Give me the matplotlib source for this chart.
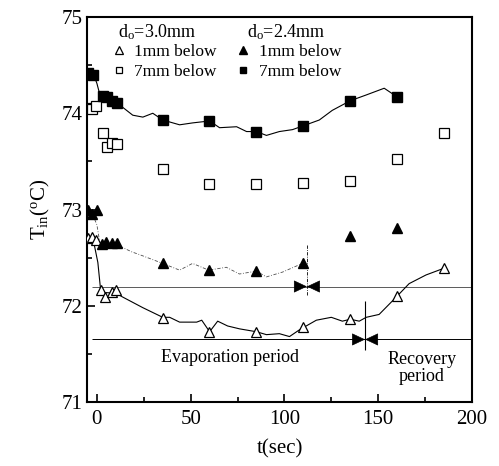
import numpy as np
import matplotlib
matplotlib.use('Agg')
import matplotlib.pyplot as plt
from matplotlib.lines import Line2D

plt.rcParams['font.family'] = 'Liberation Serif'
plt.rcParams['mathtext.fontset'] = 'custom'
plt.rcParams['mathtext.rm'] = 'Liberation Serif'
plt.rcParams['mathtext.it'] = 'Liberation Serif:italic'

# d_o = 3.0 mm, 1 mm below (open triangles)
t_ot = [-5, -2.5, -0.5, 2, 4.5, 8, 10, 35, 60, 85, 110, 135, 160, 185]
T_ot = [72.70, 72.71, 72.68, 72.16, 72.09, 72.14, 72.16, 71.87, 71.73, 71.73, 71.78, 71.86, 72.10, 72.39]
# d_o = 3.0 mm, 7 mm below (open squares)
t_os = [-5, -2.5, -0.5, 3, 5.5, 8, 10.5, 35, 60, 85, 110, 135, 160, 185]
T_os = [74.05, 74.04, 74.08, 73.80, 73.65, 73.69, 73.68, 73.42, 73.27, 73.27, 73.28, 73.30, 73.52, 73.80]
# d_o = 2.4 mm, 1 mm below (filled triangles)
t_ft = [-5, -2.5, 0, 2.5, 5, 8, 10.5, 35, 60, 85, 110, 135, 160]
T_ft = [73.00, 72.95, 73.00, 72.64, 72.66, 72.65, 72.65, 72.44, 72.37, 72.36, 72.44, 72.73, 72.81]
# d_o = 2.4 mm, 7 mm below (filled squares)
t_fs = [-5, -2, 3, 5.5, 8, 10.5, 35, 60, 85, 110, 135, 160]
T_fs = [74.42, 74.40, 74.18, 74.17, 74.13, 74.11, 73.93, 73.92, 73.81, 73.87, 74.13, 74.17]

# traced curves
curve_fs_t = [-5.3, -2.1, 0, 1.6, 10.6, 19.1, 24.5, 29.8, 35.1, 44.1, 51.1, 60.1, 65.4, 74.5, 79.8,
              85.1, 90.4, 97.3, 104.3, 110.1, 118.6, 125.5, 135.1, 143.6, 153.2, 160.1]
curve_fs_T = [74.43, 74.42, 74.31, 74.19, 74.11, 73.98, 73.96, 74.00, 73.93, 73.88, 73.90, 73.92, 73.85, 73.86, 73.81,
              73.81, 73.77, 73.81, 73.83, 73.87, 73.93, 74.03, 74.13, 74.19, 74.26, 74.17]
curve_ot_t = [-2.1, 0.5, 2.1, 10.1, 13.8, 24.5, 35.1, 38.8, 44.1, 53.2, 55.9, 60.1, 64.4, 69.7, 76.1, 85.1,
              90.4, 97.3, 102.7, 108, 117, 125, 130.9, 135.1, 139.9, 143.6, 150.5, 160.1, 166.5, 175.5, 185.1]
curve_ot_T = [72.70, 72.45, 72.14, 72.13, 72.09, 71.98, 71.88, 71.88, 71.83, 71.83, 71.85, 71.73, 71.84, 71.79, 71.76, 71.73,
              71.70, 71.71, 71.68, 71.75, 71.85, 71.88, 71.84, 71.86, 71.84, 71.88, 71.91, 72.10, 72.23, 72.32, 72.39]
curve_ft_t = [-2.7, 0, 1.6, 11, 18.6, 22.9, 35.1, 44.1, 51, 59.6, 69, 76, 85, 90.4, 99, 109.6]
curve_ft_T = [72.97, 72.84, 72.65, 72.63, 72.56, 72.53, 72.44, 72.37, 72.44, 72.37, 72.40, 72.33, 72.36, 72.30, 72.35, 72.44]

# reference levels and period boundaries
ref_levels = [72.2, 71.65]
period_end = [112, 143]
period_span = [(72.11, 72.63), (71.54, 72.05)]

fig = plt.figure(figsize=(4.99, 4.66), dpi=100)
ax = fig.add_axes([0.1743, 0.1373, 0.7715, 0.8262])

# horizontal reference lines
ax.hlines(ref_levels[0], -2.5, 200, colors='0.25', lw=0.6)
ax.hlines(ref_levels[1], -2.7, 200, colors='k', lw=0.7)
# vertical period lines
ax.vlines(period_end[0], *period_span[0], colors='k', lw=0.6, linestyles=(0, (4, 1.5, 1, 1.5)))
ax.vlines(period_end[1], *period_span[1], colors='k', lw=0.8)
for x, y in zip(period_end, ref_levels):
    for off in (-8.5, 8.5):
        ax.annotate('', xy=(x, y), xytext=(off, 0), textcoords='offset points',
                    arrowprops=dict(arrowstyle='-|>,head_length=0.85,head_width=0.4',
                                    mutation_scale=10, fc='k', ec='k', lw=0.5,
                                    shrinkA=0, shrinkB=0))

# curves
ax.plot(curve_fs_t, curve_fs_T, color='k', lw=0.8)
ax.plot(curve_ot_t, curve_ot_T, color='k', lw=0.8)
ax.plot(curve_ft_t, curve_ft_T, color='0.3', lw=0.6, linestyle=(0, (4, 2, 1, 2)))

ms = 7.3
ax.plot(t_ot, T_ot, '^', ms=ms, mfc='white', mec='k', mew=0.9, ls='none', zorder=5)
ax.plot(t_os, T_os, 's', ms=ms - 0.5, mfc='white', mec='k', mew=0.9, ls='none', zorder=5)
ax.plot(t_ft, T_ft, '^', ms=ms, mfc='k', mec='k', ls='none', zorder=5)
ax.plot(t_fs, T_fs, 's', ms=ms - 0.5, mfc='k', mec='k', ls='none', zorder=5)

ax.set_xlim(-5.3, 200)
ax.set_ylim(71, 75)
ax.set_xticks([0, 50, 100, 150, 200])
ax.set_xticks([25, 75, 125, 175], minor=True)
ax.set_yticks([71, 72, 73, 74, 75])
ax.set_yticks([71.5, 72.5, 73.5, 74.5], minor=True)
ax.tick_params(which='both', direction='in', top=False, right=False, labelsize=15, width=1.2)
ax.tick_params(axis='x', which='major', length=6, pad=6)
ax.tick_params(axis='y', which='major', length=6, pad=3)
ax.tick_params(which='minor', length=3.5)
for s in ax.spines.values():
    s.set_linewidth(1.5)

ax.set_xlabel('t(sec)', fontsize=15, labelpad=7)
ax.set_ylabel(r'T$_{\mathrm{in}}$($^{\mathrm{o}}$C)', fontsize=15, labelpad=7)

ax.text(70.9, 71.46, 'Evaporation period', fontsize=13, ha='center', va='center')
ax.text(173.3, 71.35, 'Recovery\nperiod', fontsize=13, ha='center', va='center', linespacing=1.0)

# legend
ax.text(0.08, 0.961, r'd$_{\mathrm{o}}$=3.0mm', transform=ax.transAxes, fontsize=13, va='center', ha='left')
ax.text(0.4156, 0.961, r'd$_{\mathrm{o}}$=2.4mm', transform=ax.transAxes, fontsize=13, va='center', ha='left')
handles = [
    Line2D([], [], marker='^', ls='none', ms=5.5, mfc='white', mec='k', mew=0.9, label='1mm below'),
    Line2D([], [], marker='s', ls='none', ms=5, mfc='white', mec='k', mew=0.9, label='7mm below'),
    Line2D([], [], marker='^', ls='none', ms=5.5, mfc='k', mec='k', label='1mm below'),
    Line2D([], [], marker='s', ls='none', ms=5, mfc='k', mec='k', label='7mm below'),
]
ax.legend(handles=handles, ncol=2, loc='upper left', bbox_to_anchor=(0.06, 0.93),
          frameon=False, fontsize=12.5, handlelength=1.0, handletextpad=0.4,
          columnspacing=1.0, labelspacing=0.2, borderaxespad=0, borderpad=0)

fig.savefig('out.png', dpi=100)
